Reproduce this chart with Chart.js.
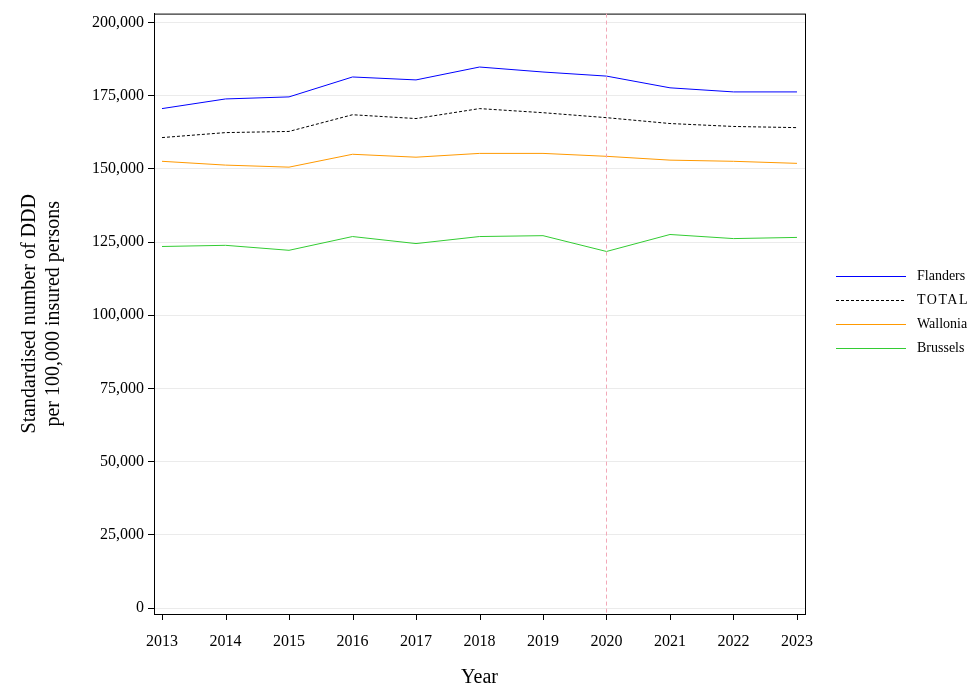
<!DOCTYPE html>
<html><head><meta charset="utf-8">
<script src="https://cdn.jsdelivr.net/npm/chart.js@4"></script>
<style>body{margin:0;background:#fff}#wrap{width:980px;height:690px}</style>
</head><body><div id="wrap"><canvas id="c"></canvas></div>
<script>
const years = [2013,2014,2015,2016,2017,2018,2019,2020,2021,2022,2023];
const flanders = [170600,173900,174600,181400,180400,184800,183100,181700,177700,176300,176300];
const total = [160700,162400,162800,168500,167200,170600,169200,167500,165500,164500,164100];
const wallonia = [152600,151300,150600,155000,154000,155300,155300,154300,153000,152600,151900];
const brussels = [123500,123900,122200,126900,124500,126900,127200,121800,127600,126200,126600];
const yTicks = [0,25000,50000,75000,100000,125000,150000,175000,200000];
const markerYear = 2020;

const FONT = "'Liberation Serif', serif";
const series = [
  {label:'Flanders', data:flanders, color:'#0000ff', dash:[]},
  {label:'TOTAL', data:total, color:'#000000', dash:[3,2]},
  {label:'Wallonia', data:wallonia, color:'#ff9900', dash:[]},
  {label:'Brussels', data:brussels, color:'#33cc33', dash:[]}
];

const extras = {
  id:'extras',
  afterDraw(chart){
    const {ctx, chartArea:a, scales:{x}} = chart;
    ctx.save();
    ctx.strokeStyle='#000'; ctx.lineWidth=1;
    ctx.strokeRect(a.left+0.5, a.top+0.5, a.right-a.left, a.bottom-a.top);
    // x tick marks
    years.forEach(v=>{
      const tx = Math.round(x.getPixelForValue(v))+0.5;
      ctx.beginPath(); ctx.moveTo(tx,a.bottom); ctx.lineTo(tx,a.bottom+6); ctx.stroke();
    });
    const px = Math.round(x.getPixelForValue(markerYear))+0.5;
    ctx.strokeStyle='#f2a8b8'; ctx.setLineDash([4,3]);
    ctx.beginPath(); ctx.moveTo(px,a.top); ctx.lineTo(px,a.bottom); ctx.stroke();
    ctx.font = '14px '+FONT; ctx.fillStyle='#000'; ctx.textBaseline='middle';
    series.forEach((s,i)=>{
      const y = 276 + i*24 + 0.5;
      ctx.strokeStyle=s.color; ctx.setLineDash(s.dash);
      ctx.beginPath(); ctx.moveTo(836,y); ctx.lineTo(906,y); ctx.stroke();
      if (s.label==='TOTAL') { ctx.letterSpacing='1.5px'; }
      ctx.fillText(s.label, 917, y);
      ctx.letterSpacing='0px';
    });
    ctx.restore();
  }
};

new Chart(document.getElementById('c'), {
  type:'line',
  data:{datasets: series.map(s=>({
    label:s.label,
    data: years.map((yr,i)=>({x:yr, y:s.data[i]})),
    borderColor:s.color, borderDash:s.dash, borderWidth:1,
    pointRadius:0, tension:0, fill:false
  }))},
  options:{
    responsive:true, maintainAspectRatio:false, animation:false,
    layout:{padding:{top:8, right:175, bottom:0, left:14}},
    plugins:{legend:{display:false}, tooltip:{enabled:false}},
    scales:{
      x:{type:'linear', min:2012.874, max:2023.126,
        afterBuildTicks(ax){ ax.ticks = years.map(v=>({value:v})); },
        afterFit(ax){ ax.height = 76; },
        ticks:{font:{family:FONT,size:16}, color:'#000', callback:v=>String(v), maxRotation:0, padding:12},
        grid:{display:false, drawTicks:true, tickLength:6, tickColor:'#000'},
        border:{color:'#000'},
        title:{display:true, text:'Year', font:{family:FONT,size:20}, color:'#000', padding:{top:10, bottom:0}}
      },
      y:{min:-2030, max:203050,
        afterBuildTicks(ax){ ax.ticks = yTicks.map(v=>({value:v})); },
        ticks:{font:{family:FONT,size:16}, color:'#000', callback:v=>v.toLocaleString('en-US'), padding:4},
        grid:{color:'#ebebeb', tickColor:'#000', tickLength:6},
        border:{color:'#000'},
        title:{display:true, text:['Standardised number of DDD','per 100,000 insured persons'], font:{family:FONT,size:20}, color:'#000', padding:{bottom:22}}
      }
    }
  },
  plugins:[extras]
});
</script></body></html>
